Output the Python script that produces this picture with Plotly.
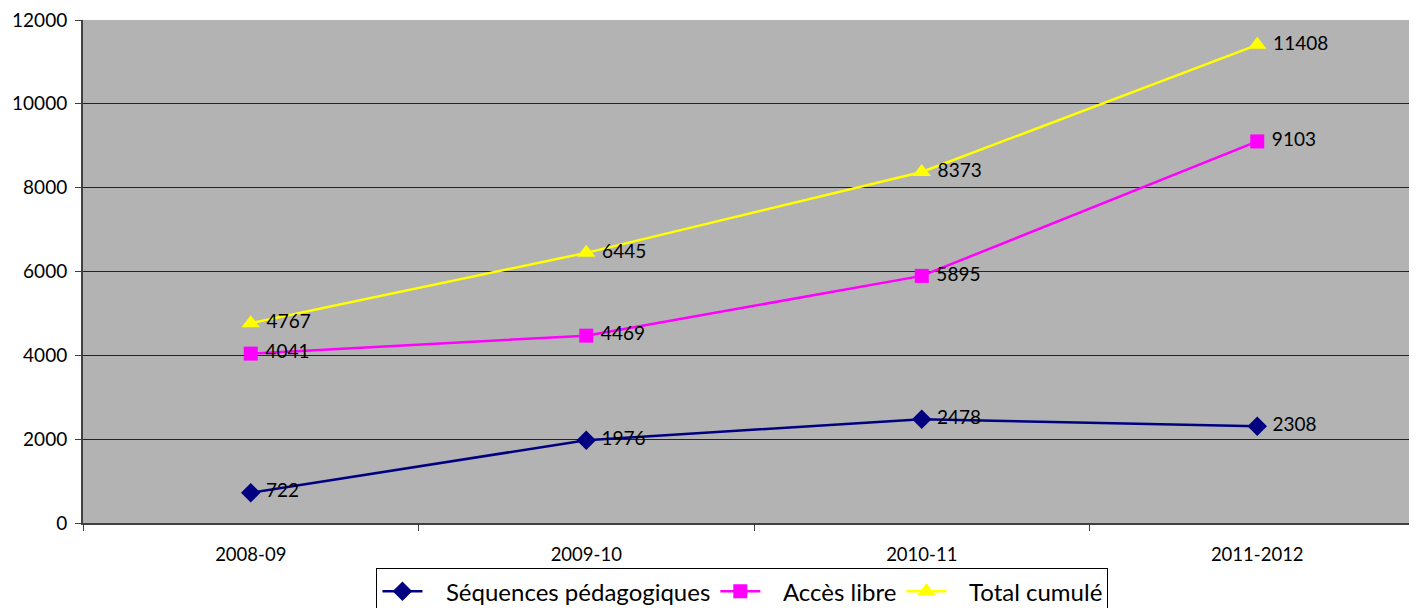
import plotly.graph_objects as go

categories = ["2008-09", "2009-10", "2010-11", "2011-2012"]
sequences = [722, 1976, 2478, 2308]
acces = [4041, 4469, 5895, 9103]
total = [4767, 6445, 8373, 11408]
y_ticks = [0, 2000, 4000, 6000, 8000, 10000, 12000]

FONT = "Lato, Carlito, Calibri, sans-serif"
PAD = "\u00a0\u00a0\u00a0"

fig = go.Figure()
series = [
    ("Séquences pédagogiques", sequences, "#000080", "diamond", 15),
    ("Accès libre", acces, "#FF00FF", "square", 14),
    ("Total cumulé", total, "#FFFF00", "triangle-up", 16),
]
for name, vals, col, sym, sz in series:
    fig.add_trace(go.Scatter(
        x=categories, y=vals, name=PAD + name, mode="lines+markers+text",
        line=dict(color=col, width=2.5),
        marker=dict(symbol=sym, size=sz, color=col),
        text=[f" {v}" for v in vals], textposition="middle right",
        textfont=dict(family=FONT, size=19, color="black"),
        cliponaxis=False,
    ))

fig.update_layout(
    width=1417, height=608,
    margin=dict(l=75, r=0, t=12, b=93),
    paper_bgcolor="white", plot_bgcolor="#B3B3B3",
    font=dict(family=FONT, size=18, color="black"),
    showlegend=True,
    legend=dict(orientation="h", x=0.4914, xanchor="center", y=-0.09, yanchor="top",
                bordercolor="black", borderwidth=1, bgcolor="white",
                font=dict(family=FONT, size=24), itemwidth=40,
                tracegroupgap=0),
)
fig.update_xaxes(
    type="category", range=[-0.5, 3.5], showgrid=False, automargin=False,
    showline=True, linecolor="#404040", linewidth=2,
    ticks="outside", tickson="boundaries", ticklen=6, tickcolor="#404040",
    tickfont=dict(family=FONT, size=18.5), ticklabelstandoff=14,
)
fig.update_yaxes(
    range=[0, 12000], tickvals=y_ticks, ticktext=[str(v) for v in y_ticks],
    showgrid=True, gridcolor="#222222", gridwidth=1, automargin=False,
    showline=True, linecolor="#404040", linewidth=2,
    ticks="outside", ticklen=6, tickcolor="#404040", ticklabelstandoff=4,
    ticklabeloverflow="allow",
    tickfont=dict(family=FONT, size=19), zeroline=False,
)
fig.write_html("out.html")
